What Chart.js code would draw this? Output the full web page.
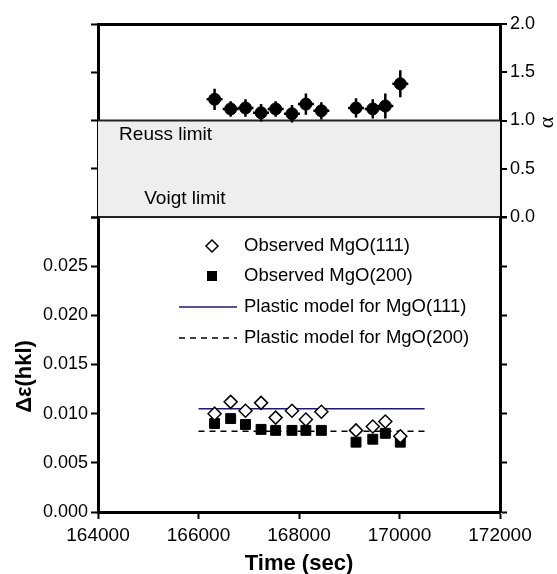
<!DOCTYPE html>
<html>
<head>
<meta charset="utf-8">
<script src="https://cdn.jsdelivr.net/npm/chart.js@4.4.0/dist/chart.umd.min.js"></script>
<style>
  html, body { margin: 0; padding: 0; background: #fff; }
  #wrap { width: 557px; height: 574px; }
</style>
</head>
<body>
<div id="wrap"><canvas id="myChart"></canvas></div>
<script>
// time of each measurement (sec)
var times = [166320, 166640, 166935, 167245, 167535, 167860, 168137, 168445, 169135, 169468, 169718, 170016];
// alpha from the top panel, with half error bars
var alphaValues = [1.22, 1.12, 1.13, 1.08, 1.12, 1.07, 1.17, 1.10, 1.13, 1.12, 1.15, 1.38];
var alphaErrors = [0.11, 0.08, 0.09, 0.09, 0.08, 0.09, 0.11, 0.09, 0.10, 0.10, 0.13, 0.14];
// lattice strain
var strain111 = [0.0100, 0.0112, 0.0103, 0.0111, 0.0096, 0.0103, 0.0094, 0.0102, 0.0083, 0.0087, 0.0092, 0.0077];
var strain200 = [0.0090, 0.0095, 0.0089, 0.0084, 0.0083, 0.0083, 0.0083, 0.0083, 0.0071, 0.0074, 0.0080, 0.0071];
// plastic model lines
var modelTime = [166000, 170500];
var model111 = [0.0105, 0.0105];
var model200 = [0.0082, 0.0082];
// Reuss limit band (alpha 0..1)
var bandTime = [164000, 172000];
var bandTop = [1, 1];
var limitLabels = ['Reuss limit', 'Voigt limit'];
var limitLabelPos = [[164420, 0.85], [164920, 0.19]];
var legendLabels = ['Observed MgO(111)', 'Observed MgO(200)',
    'Plastic model for MgO(111)', 'Plastic model for MgO(200)'];

function pts(xs, ys) {
    return xs.map(function (x, i) { return {x: x, y: ys[i]}; });
}

Chart.defaults.font.family = "'Liberation Sans', Arial, sans-serif";
Chart.defaults.color = '#000';

var extras = {
    id: 'extras',
    beforeDatasetDraw: function (chart, args) {
        if (args.index !== 1) return;
        var c = chart.ctx, xs = chart.scales.x, ya = chart.scales.alpha;
        c.save();
        c.strokeStyle = '#000';
        c.lineWidth = 2.5;
        for (var i = 0; i < times.length; i++) {
            var px = xs.getPixelForValue(times[i]);
            var py = ya.getPixelForValue(alphaValues[i]);
            c.beginPath();
            c.moveTo(px, ya.getPixelForValue(alphaValues[i] + alphaErrors[i]));
            c.lineTo(px, ya.getPixelForValue(alphaValues[i] - alphaErrors[i]));
            c.moveTo(px - 8, py);
            c.lineTo(px + 8, py);
            c.stroke();
        }
        c.restore();
    },
    afterDatasetsDraw: function (chart) {
        var c = chart.ctx, a = chart.chartArea;
        var xs = chart.scales.x, ya = chart.scales.alpha;
        c.save();
        // panel separator at alpha = 0
        var y0a = ya.getPixelForValue(0);
        c.beginPath();
        c.strokeStyle = '#222';
        c.lineWidth = 2;
        c.moveTo(a.left, y0a);
        c.lineTo(a.right, y0a);
        c.stroke();

        c.fillStyle = '#000';
        c.font = "19px 'Liberation Sans', Arial, sans-serif";
        c.textBaseline = 'middle';
        c.textAlign = 'left';
        limitLabels.forEach(function (t, i) {
            c.fillText(t, xs.getPixelForValue(limitLabelPos[i][0]),
                ya.getPixelForValue(limitLabelPos[i][1]));
        });

        // legend
        c.font = "18.5px 'Liberation Sans', Arial, sans-serif";
        var rows = [222, 252, 283, 314];
        var sx = a.left + 114, lx0 = a.left + 81, lx1 = a.left + 139, tx = a.left + 146;
        legendLabels.forEach(function (t, i) {
            c.fillText(t, tx, a.top + rows[i]);
        });
        var y0 = a.top + rows[0];
        c.beginPath();
        c.moveTo(sx, y0 - 6); c.lineTo(sx + 6, y0); c.lineTo(sx, y0 + 6); c.lineTo(sx - 6, y0);
        c.closePath();
        c.fillStyle = '#fff'; c.fill();
        c.strokeStyle = '#000'; c.lineWidth = 1.5; c.stroke();
        c.fillStyle = '#000';
        c.fillRect(sx - 5, a.top + rows[1] - 5, 10, 10);
        c.beginPath();
        c.strokeStyle = '#1c1c6e'; c.lineWidth = 1.5;
        c.moveTo(lx0, a.top + rows[2]); c.lineTo(lx1, a.top + rows[2]);
        c.stroke();
        c.beginPath();
        c.strokeStyle = '#000'; c.setLineDash([6, 5]);
        c.moveTo(lx0, a.top + rows[3]); c.lineTo(lx1, a.top + rows[3]);
        c.stroke();
        c.setLineDash([]);

        // axis titles placed on their own panels
        var ys = chart.scales.yStrain;
        c.save();
        c.translate(25, (ys.top + ys.bottom) / 2 + 12);
        c.rotate(-Math.PI / 2);
        c.textAlign = 'center';
        c.font = "bold 22px 'Liberation Sans', Arial, sans-serif";
        c.fillText('\u0394\u03b5(hkl)', 0, 0);
        c.restore();
        c.save();
        c.translate(547, (ya.top + ya.bottom) / 2 + 2);
        c.rotate(-Math.PI / 2);
        c.textAlign = 'center';
        c.font = "22px 'Liberation Serif', serif";
        c.fillText('\u03b1', 0, 0);
        c.restore();
        c.restore();
    }
};

var tickGrid = {drawOnChartArea: false, tickLength: 7, tickColor: '#000', tickWidth: 2};
var axisBorder = {color: '#000', width: 3};

var ctx = document.getElementById('myChart').getContext('2d');
var myChart = new Chart(ctx, {
    type: 'scatter',
    data: {
        datasets: [{
            label: 'band',
            type: 'line',
            data: pts(bandTime, bandTop),
            yAxisID: 'alpha',
            borderWidth: 2,
            borderColor: '#222',
            backgroundColor: '#eeeeee',
            fill: {value: 0},
            pointRadius: 0,
            order: 10
        }, {
            label: 'alpha',
            data: pts(times, alphaValues),
            yAxisID: 'alpha',
            pointStyle: 'circle',
            pointRadius: 6,
            backgroundColor: '#000',
            borderColor: '#000',
            order: 1
        }, {
            label: legendLabels[0],
            data: pts(times, strain111),
            yAxisID: 'yStrain',
            pointStyle: 'rectRot',
            pointRadius: 6.5,
            backgroundColor: '#fff',
            borderColor: '#000',
            borderWidth: 1.5,
            order: 1
        }, {
            label: legendLabels[1],
            data: pts(times, strain200),
            yAxisID: 'yStrain',
            pointStyle: 'rect',
            pointRadius: 7,
            backgroundColor: '#000',
            borderColor: '#000',
            order: 2
        }, {
            label: legendLabels[2],
            type: 'line',
            data: pts(modelTime, model111),
            yAxisID: 'yStrain',
            borderColor: '#1c1c6e',
            borderWidth: 1.5,
            pointRadius: 0,
            order: 3
        }, {
            label: legendLabels[3],
            type: 'line',
            data: pts(modelTime, model200),
            yAxisID: 'yStrain',
            borderColor: '#000',
            borderWidth: 1.5,
            borderDash: [6, 5],
            pointRadius: 0,
            order: 3
        }]
    },
    options: {
        responsive: true,
        maintainAspectRatio: false,
        animation: false,
        layout: {padding: 0},
        plugins: {
            legend: {display: false},
            tooltip: {enabled: false}
        },
        scales: {
            x: {
                type: 'linear',
                position: 'bottom',
                min: 164000,
                max: 172000,
                ticks: {
                    stepSize: 2000,
                    padding: 5,
                    font: {size: 19},
                    callback: function (v) { return String(v); }
                },
                grid: tickGrid,
                border: axisBorder,
                title: {
                    display: true,
                    text: 'Time (sec)',
                    font: {size: 22, weight: 'bold'},
                    padding: {top: 0, bottom: -3}
                },
                afterFit: function (s) { s.height = 62; }
            },
            xTop: {
                type: 'linear',
                axis: 'x',
                position: 'top',
                min: 164000,
                max: 172000,
                ticks: {display: false},
                grid: {drawOnChartArea: false, drawTicks: false},
                border: axisBorder,
                afterFit: function (s) { s.height = 24; }
            },
            yStrain: {
                type: 'linear',
                axis: 'y',
                position: 'left',
                stack: 'left',
                stackWeight: 295,
                weight: 0,
                min: 0,
                max: 0.03,
                ticks: {
                    stepSize: 0.005,
                    font: {size: 18},
                    callback: function (v) { return v > 0.0299 ? '' : v.toFixed(3); }
                },
                grid: tickGrid,
                border: axisBorder,
                afterFit: function (s) { s.width = 98; }
            },
            yAlphaL: {
                type: 'linear',
                axis: 'y',
                position: 'left',
                stack: 'left',
                stackWeight: 193,
                weight: 1,
                min: 0,
                max: 2,
                ticks: {stepSize: 0.5, display: false},
                grid: tickGrid,
                border: axisBorder,
                afterFit: function (s) { s.width = 98; }
            },
            alpha: {
                type: 'linear',
                axis: 'y',
                position: 'right',
                stack: 'right',
                stackWeight: 193,
                weight: 0,
                min: 0,
                max: 2,
                z: 1,
                ticks: {
                    stepSize: 0.5,
                    font: {size: 18},
                    callback: function (v) { return v.toFixed(1); }
                },
                grid: {
                    drawOnChartArea: true,
                    tickLength: 7,
                    tickColor: '#000',
                    tickWidth: 2,
                    lineWidth: 2,
                    color: function (c) {
                        return (c.tick && (c.tick.value === 0 || c.tick.value === 1)) ? '#222' : 'rgba(0,0,0,0)';
                    }
                },
                border: axisBorder,
                afterFit: function (s) { s.width = 57; }
            },
            yStrainR: {
                type: 'linear',
                axis: 'y',
                position: 'right',
                stack: 'right',
                stackWeight: 295,
                weight: 1,
                min: 0,
                max: 0.03,
                ticks: {stepSize: 0.005, display: false},
                grid: tickGrid,
                border: axisBorder,
                afterFit: function (s) { s.width = 57; }
            }
        }
    },
    plugins: [extras]
});
</script>
</body>
</html>
